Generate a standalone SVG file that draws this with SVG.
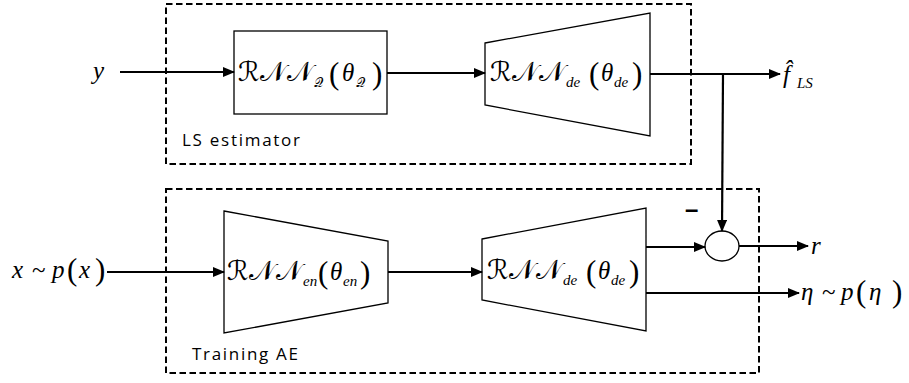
<svg xmlns="http://www.w3.org/2000/svg" width="909" height="383" viewBox="0 0 909 383">
<defs>
<marker id="ah" markerWidth="12" markerHeight="10" refX="11" refY="5" orient="auto" markerUnits="userSpaceOnUse">
<path d="M0,0 L12,5 L0,10 Z" fill="#000"/>
</marker>
<style>
.dash{fill:none;stroke:#000;stroke-width:2;stroke-dasharray:6.5 3.5}
.blk{fill:#fff;stroke:#000;stroke-width:1.3}
.ar{fill:none;stroke:#000;stroke-width:2.2;marker-end:url(#ah)}
.m{font-family:"Liberation Serif","DejaVu Serif",serif;font-style:italic;font-size:25px;fill:#000}
.cal{font-family:"DejaVu Serif","DejaVu Sans","Liberation Serif",serif;font-style:normal;font-size:27px;letter-spacing:0.5px}
.sub{font-family:"Liberation Serif",serif;font-style:italic;font-size:15px;letter-spacing:0}
.csub{font-family:"DejaVu Serif","DejaVu Sans",serif;font-style:normal;font-size:13px;letter-spacing:0}
.par{font-family:"Liberation Serif",serif;font-style:normal;font-size:31px;letter-spacing:0}
.th{letter-spacing:0}
.lbl{font-family:"Open Sans","Liberation Sans",sans-serif;font-size:17px;fill:#000}
</style>
</defs>

<g id="ls-box"><rect class="dash" x="166" y="4" width="525" height="160"/>
<text class="lbl" x="182" y="146" textLength="118" lengthAdjust="spacing">LS estimator</text></g>
<g id="ae-box"><rect class="dash" x="166" y="189" width="593" height="184"/>
<text class="lbl" x="192" y="360" textLength="106" lengthAdjust="spacing">Training AE</text></g>

<g id="in-y"><text class="m" x="93" y="79" font-size="26">y</text></g>
<g id="in-x"><text class="m" x="12" y="278" font-size="26">x<tspan x="32" font-style="normal">~</tspan><tspan x="52">p</tspan><tspan class="par" x="67" y="280">(</tspan><tspan x="79" y="278">x</tspan><tspan class="par" x="95" y="280">)</tspan></text></g>

<g id="rnn-q"><rect class="blk" x="234" y="31" width="153" height="83"/>
<text class="m" y="81"><tspan class="cal" x="238">ℛ𝒩𝒩</tspan><tspan class="csub" x="314" y="87">𝒬</tspan><tspan class="par" x="329" y="84">(</tspan><tspan class="th" x="342" y="81">θ</tspan><tspan class="csub" x="356" y="87">𝒬</tspan><tspan class="par" x="372" y="84">)</tspan></text></g>

<g id="rnn-de-ls"><polygon class="blk" points="485,43 650,13 650,136 485,105"/>
<text class="m" y="81"><tspan class="cal" x="490">ℛ𝒩𝒩</tspan><tspan class="sub" x="566" y="87">de</tspan><tspan class="par" x="589" y="84">(</tspan><tspan class="th" x="601" y="81">θ</tspan><tspan class="sub" x="614" y="87">de</tspan><tspan class="par" x="632" y="84">)</tspan></text></g>

<g id="rnn-en"><polygon class="blk" points="224,211 388,241 388,303 224,333"/>
<text class="m" y="280"><tspan class="cal" x="227">ℛ𝒩𝒩</tspan><tspan class="sub" x="303" y="286">en</tspan><tspan class="par" x="318" y="283">(</tspan><tspan class="th" x="330" y="280">θ</tspan><tspan class="sub" x="343" y="286">en</tspan><tspan class="par" x="360" y="283">)</tspan></text></g>

<g id="rnn-de-ae"><polygon class="blk" points="482,239 646,208 646,331 482,300"/>
<text class="m" y="279"><tspan class="cal" x="487">ℛ𝒩𝒩</tspan><tspan class="sub" x="563" y="285">de</tspan><tspan class="par" x="586" y="282">(</tspan><tspan class="th" x="598" y="279">θ</tspan><tspan class="sub" x="611" y="285">de</tspan><tspan class="par" x="629" y="282">)</tspan></text></g>

<g id="sum"><ellipse class="blk" cx="722" cy="246" rx="17" ry="15"/>
<text x="685" y="217" font-family="Liberation Sans,sans-serif" font-weight="bold" font-size="24">–</text></g>

<g id="out-f"><text class="m" x="783" y="83" font-size="26">f̂<tspan class="sub" x="797" y="88" font-size="15">LS</tspan></text></g>
<g id="out-r"><text class="m" x="811" y="254" font-size="26">r</text></g>
<g id="out-eta"><text class="m" x="801" y="300" font-size="26">η<tspan x="822" font-style="normal">~</tspan><tspan x="841">p</tspan><tspan class="par" x="856" y="302">(</tspan><tspan x="869" y="300">η</tspan><tspan class="par" x="892" y="302">)</tspan></text></g>

<g id="connectors">
<line class="ar" x1="120" y1="72" x2="234" y2="72"/>
<line class="ar" x1="387" y1="73" x2="485" y2="73"/>
<line class="ar" x1="650" y1="74" x2="780" y2="74"/>
<line class="ar" x1="723" y1="74" x2="722" y2="231"/>
<line class="ar" x1="107" y1="272" x2="224" y2="272"/>
<line class="ar" x1="388" y1="272" x2="482" y2="272"/>
<line class="ar" x1="646" y1="247" x2="705" y2="247"/>
<line class="ar" x1="739" y1="246" x2="808" y2="246"/>
<line class="ar" x1="646" y1="293" x2="799" y2="293"/>
</g>
</svg>
